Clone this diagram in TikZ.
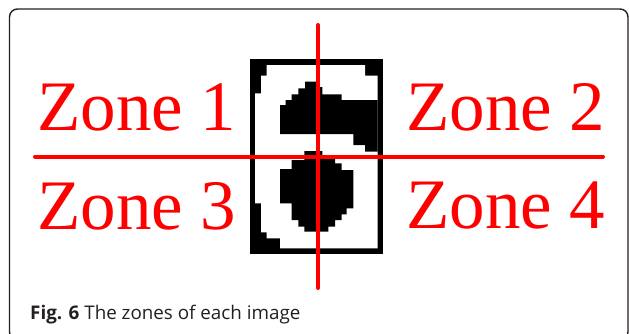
\documentclass[tikz,border=0pt]{standalone}
\usepackage{fontspec}
\usepackage{xcolor}
\setmainfont{Liberation Serif}
\newfontfamily\capfont{Open Sans}
\definecolor{zonered}{HTML}{FF0000}
\definecolor{framegray}{HTML}{231F20}

\begin{document}
\begin{tikzpicture}[x=1pt, y=-1pt,
  zone/.style={text=zonered, font=\fontsize{71}{71}\selectfont, inner sep=0pt, anchor=base west},
  cut/.style={draw=zonered, line width=4pt, line cap=round},
  caption/.style={text=framegray, font=\capfont\fontsize{18.8}{18.8}\selectfont, inner sep=0pt, anchor=base west}]
\useasboundingbox (0,0) rectangle (629,333);
\begin{scope}
\clip (0,0) rectangle (629,333);
\draw[framegray, line width=1.4pt, rounded corners=8pt] (9.5,9) rectangle (628,340);
\end{scope}
% the digit image
\fill[black] (250,59) rectangle (383,254);
\fill[white] (266.7,65) -- (365,65) -- (365,75.7) -- (377.7,75.7) -- (377.7,248.3) -- (280,248.3) -- (280,238.3) -- (266.7,238.3) -- (266.7,232.3) -- (261,232.3) -- (261,203.3) -- (255,203.3) -- (255,93.3) -- (261,93.3) -- (261,75.7) -- (266.7,75.7) -- cycle;
\fill[black] (305,81.7) -- (318,81.7) -- (318,87) -- (322.3,87) -- (322.3,94.3) -- (341.7,94.3) -- (341.7,100) -- (377.7,100) -- (377.7,151.7) -- (365,151.7) -- (365,145) -- (353.3,145) -- (353.3,134) -- (280,134) -- (280,105) -- (285.7,105) -- (285.7,100) -- (291.7,100) -- (291.7,94.3) -- (298.3,94.3) -- (298.3,88.3) -- (305,88.3) -- cycle;
\fill[black] (304.3,151) -- (322.3,151) -- (322.3,157) -- (335,157) -- (335,163.3) -- (341.7,163.3) -- (341.7,170) -- (353.3,170) -- (353.3,208.3) -- (346.7,208.3) -- (346.7,214.3) -- (341.7,214.3) -- (341.7,220) -- (335,220) -- (335,226.7) -- (328.3,226.7) -- (328.3,231.7) -- (304.3,231.7) -- (304.3,226.7) -- (298.3,226.7) -- (298.3,220) -- (291.7,220) -- (291.7,203.3) -- (280,203.3) -- (280,169) -- (291.7,169) -- (291.7,160) -- (304.3,160) -- cycle;
% zone labels
\node[zone] (z1) at (37,130.7) {Zone 1};
\node[zone] (z2) at (406,130) {Zone 2};
\node[zone] (z3) at (37,229.5) {Zone 3};
\node[zone] (z4) at (406,228.3) {Zone 4};
% dividing lines
\coordinate (top) at (318,25);
\coordinate (bot) at (318,288);
\coordinate (lft) at (35,156.5);
\coordinate (rgt) at (603,156.5);
\draw[cut] (lft) -- (rgt);
\draw[cut] (top) -- (bot);
\node[caption] (cap) at (30,319) {\textbf{Fig. 6} The zones of each image};
\end{tikzpicture}
\end{document}
